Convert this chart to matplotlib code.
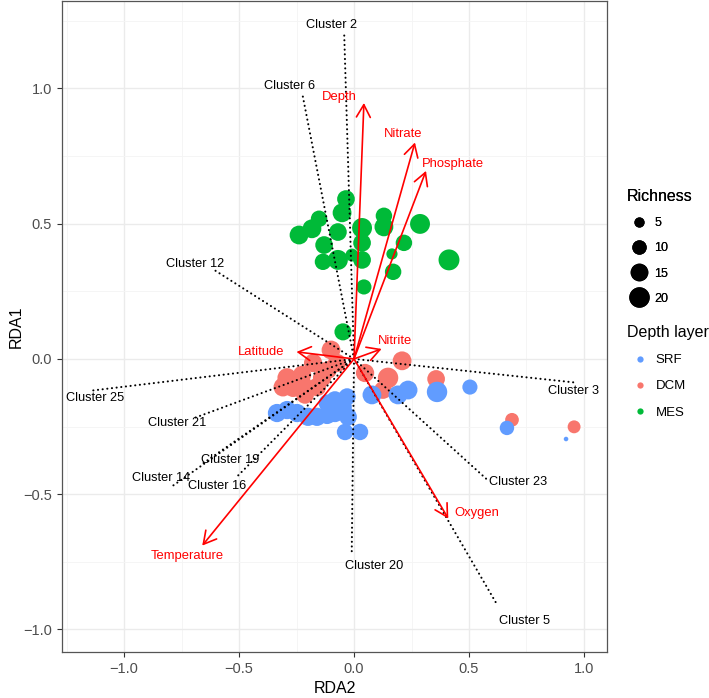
import matplotlib
matplotlib.use("Agg")
import matplotlib.pyplot as plt
from matplotlib.lines import Line2D
from matplotlib.ticker import MultipleLocator
import numpy as np

plt.rcParams['font.family'] = ['Liberation Sans', 'DejaVu Sans']

# sample scores (RDA2 on x, RDA1 on y) and richness, per depth layer
srf_x = [-0.335, -0.291, -0.248, -0.200, -0.161, -0.117, -0.083, -0.048, -0.030, -0.083, -0.117,
         -0.026, 0.078, 0.191, 0.235, 0.361, 0.504, -0.039, 0.026, 0.665, 0.922]
srf_y = [-0.200, -0.189, -0.200, -0.214, -0.214, -0.207, -0.200, -0.177, -0.140, -0.152, -0.163,
         -0.214, -0.133, -0.133, -0.115, -0.122, -0.104, -0.270, -0.270, -0.255, -0.296]
srf_rich = [16, 16, 16, 16, 16, 16, 16, 15, 14, 15, 14, 15, 17, 17, 17, 20, 11, 13, 13, 10, 1]

dcm_x = [-0.100, -0.178, -0.074, -0.113, -0.139, -0.226, -0.291, -0.309, -0.265, -0.222, -0.213,
         -0.161, 0.048, 0.148, 0.209, 0.357, 0.126, 0.687, 0.957]
dcm_y = [0.033, -0.015, -0.015, -0.041, -0.070, -0.059, -0.070, -0.104, -0.107, -0.096, -0.133,
         -0.104, -0.052, -0.070, -0.007, -0.074, -0.115, -0.225, -0.251]
dcm_rich = [17, 16, 16, 15, 16, 16, 18, 17, 16, 16, 15, 16, 16, 20, 17, 15, 15, 9, 8]

mes_x = [-0.035, -0.052, -0.152, -0.183, -0.239, -0.070, 0.035, 0.130, 0.130, 0.287, 0.035,
         -0.130, 0.217, -0.135, -0.070, -0.009, 0.035, 0.165, 0.170, 0.043, -0.048, 0.413]
mes_y = [0.591, 0.540, 0.518, 0.481, 0.458, 0.469, 0.484, 0.529, 0.488, 0.499, 0.429,
         0.421, 0.429, 0.359, 0.366, 0.384, 0.366, 0.388, 0.322, 0.266, 0.100, 0.366]
mes_rich = [15, 17, 13, 17, 17, 15, 19, 13, 17, 19, 15, 15, 13, 13, 19, 8, 15, 6, 13, 11, 14, 21]

# environmental vectors
env_names = ['Depth', 'Nitrate', 'Phosphate', 'Nitrite', 'Latitude', 'Temperature', 'Oxygen']
env_x = [0.043, 0.265, 0.313, 0.120, -0.250, -0.660, 0.410]
env_y = [0.946, 0.800, 0.695, 0.037, 0.026, -0.690, -0.590]
env_lab_x = [-0.062, 0.213, 0.428, 0.178, -0.404, -0.726, 0.532]
env_lab_y = [0.968, 0.833, 0.722, 0.068, 0.026, -0.728, -0.569]

# cluster loadings
clu_names = ['Cluster 2', 'Cluster 6', 'Cluster 12', 'Cluster 25', 'Cluster 21', 'Cluster 19',
             'Cluster 14', 'Cluster 16', 'Cluster 20', 'Cluster 5', 'Cluster 23', 'Cluster 3']
clu_x = [-0.043, -0.226, -0.610, -1.150, -0.700, -0.655, -0.790, -0.510, -0.010, 0.620, 0.580, 0.970]
clu_y = [1.209, 0.985, 0.330, -0.118, -0.220, -0.385, -0.470, -0.436, -0.720, -0.905, -0.447, -0.088]
clu_lab_x = [-0.096, -0.280, -0.690, -1.125, -0.770, -0.540, -0.840, -0.595, 0.087, 0.740, 0.713, 0.955]
clu_lab_y = [1.235, 1.010, 0.350, -0.144, -0.237, -0.373, -0.440, -0.470, -0.765, -0.970, -0.455, -0.118]

layer_names = ['SRF', 'DCM', 'MES']
layer_colors = ['#619CFF', '#F8766D', '#00BA38']
rich_levels = [5, 10, 15, 20]


def marker_area(r):
    return 10.8 * np.asarray(r, dtype=float)


fig = plt.figure(figsize=(7.09, 6.98), dpi=100)
ax = fig.add_axes([0.0874, 0.066, 0.7687, 0.9326])

ax.set_xlim(-1.27, 1.10)
ax.set_ylim(-1.083, 1.323)
ax.xaxis.set_major_locator(MultipleLocator(0.5))
ax.yaxis.set_major_locator(MultipleLocator(0.5))
ax.xaxis.set_minor_locator(MultipleLocator(0.25))
ax.yaxis.set_minor_locator(MultipleLocator(0.25))
ax.grid(which='major', color='#EBEBEB', lw=1.0, zorder=0)
ax.grid(which='minor', color='#F4F4F4', lw=0.6, zorder=0)
ax.set_axisbelow(True)
for s in ax.spines.values():
    s.set_color('#555555')
    s.set_linewidth(0.9)
ax.tick_params(which='major', length=3.5, color='#333333', labelcolor='#4D4D4D', labelsize=10.5, width=0.8)
ax.tick_params(which='minor', length=0)
ax.xaxis.set_major_formatter(plt.FuncFormatter(lambda v, p: f"{v:.1f}".replace('-', '\u2212')))
ax.yaxis.set_major_formatter(plt.FuncFormatter(lambda v, p: f"{v:.1f}".replace('-', '\u2212')))
ax.set_xlabel('RDA2', fontsize=11.5, labelpad=4)
ax.set_ylabel('RDA1', fontsize=11.5, labelpad=0)

# points
ax.scatter(dcm_x, dcm_y, s=marker_area(dcm_rich), color=layer_colors[1], lw=0, zorder=2)
ax.scatter(srf_x, srf_y, s=marker_area(srf_rich), color=layer_colors[0], lw=0, zorder=2)
ax.scatter(mes_x, mes_y, s=marker_area(mes_rich), color=layer_colors[2], lw=0, zorder=2)

# cluster dotted lines and labels
for name, x, y, lx, ly in zip(clu_names, clu_x, clu_y, clu_lab_x, clu_lab_y):
    ax.plot([0, x], [0, y], color='black', lw=1.5, linestyle=(0, (0.05, 2.2)),
            dash_capstyle='round', zorder=3)
    ax.text(lx, ly, name, fontsize=9.2, ha='center', va='center', color='black', zorder=5)

# environmental arrows and labels
for name, x, y, lx, ly in zip(env_names, env_x, env_y, env_lab_x, env_lab_y):
    ax.annotate('', xy=(x, y), xytext=(0, 0),
                arrowprops=dict(arrowstyle='->,head_length=0.45,head_width=0.25', color='red',
                                lw=1.2, shrinkA=0, shrinkB=0, mutation_scale=20), zorder=4)
    ax.text(lx, ly, name, fontsize=9.4, ha='center', va='center', color='red', zorder=5)

# legends
size_handles = [Line2D([], [], marker='o', linestyle='', color='black', markeredgewidth=0,
                       markersize=np.sqrt(marker_area(r))) for r in rich_levels]
leg1 = fig.legend(size_handles, [str(r) for r in rich_levels], title='Richness',
                  loc='upper left', bbox_to_anchor=(0.884, 0.729), frameon=False,
                  fontsize=9, title_fontsize=11.5, labelspacing=1.05, handletextpad=0.2,
                  alignment='left', borderaxespad=0, borderpad=0)
color_handles = [Line2D([], [], marker='o', linestyle='', color=c, markeredgewidth=0,
                        markersize=4.5) for c in layer_colors]
leg2 = fig.legend(color_handles, layer_names, title='Depth layer',
                  loc='upper left', bbox_to_anchor=(0.884, 0.534), frameon=False,
                  fontsize=9.5, title_fontsize=11.5, labelspacing=1.05, handletextpad=0.2,
                  alignment='left', borderaxespad=0, borderpad=0)
fig.add_artist(leg1)

fig.savefig('out.png', dpi=100)
